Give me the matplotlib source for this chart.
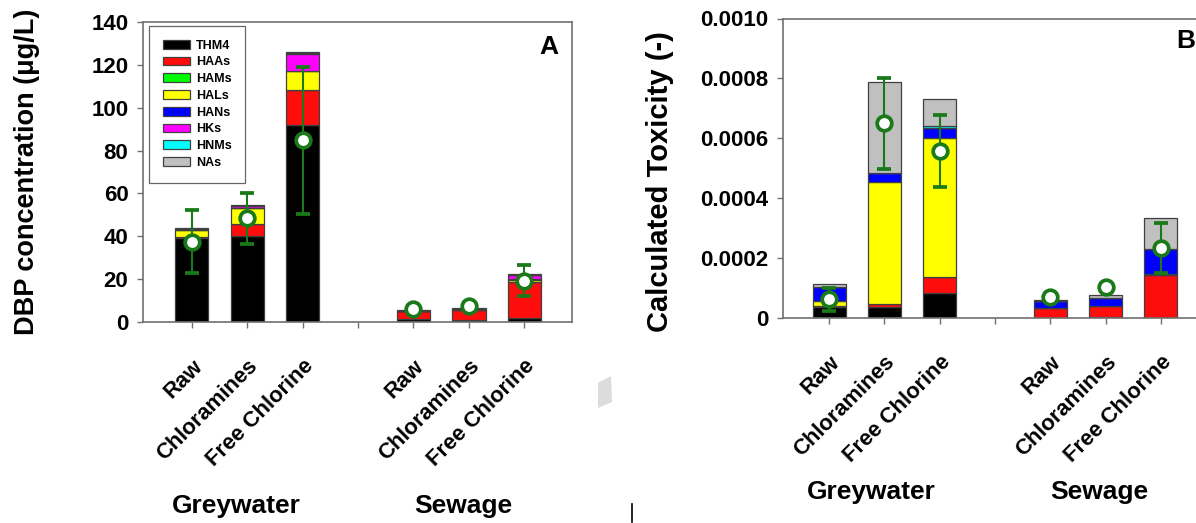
import matplotlib
matplotlib.use("Agg")
import matplotlib.pyplot as plt
import numpy as np
from matplotlib.patches import Patch, Polygon
from matplotlib.lines import Line2D
from matplotlib.transforms import ScaledTranslation
from matplotlib.ticker import FixedLocator, FuncFormatter

plt.rcParams['font.family'] = ['Liberation Sans', 'DejaVu Sans']

# ---------------- data ----------------
positions = [1, 2, 3, 5, 6, 7]
tick_positions = [1, 2, 3, 4, 5, 6, 7]
tick_labels = ["Raw", "Chloramines", "Free Chlorine", "", "Raw", "Chloramines", "Free Chlorine"]
groups = ["Greywater", "Sewage"]
classes = ["THM4", "HAAs", "HAMs", "HALs", "HANs", "HKs", "HNMs", "NAs"]
class_colors = ["#000000", "#ff0d0d", "#00ff00", "#ffff00", "#0000ff", "#ff00ff", "#00ffff", "#c0c0c0"]

# Panel A: DBP concentration (ug/L), stacked components per sample
conc_THM4 = [39.0, 40.0, 92.1, 1.2, 1.0, 2.0]
conc_HAAs = [0.8, 5.6, 16.2, 3.8, 4.6, 16.8]
conc_HAMs = [0.1, 0.1, 0.1, 0.0, 0.0, 0.1]
conc_HALs = [3.0, 7.5, 8.6, 0.1, 0.4, 0.9]
conc_HANs = [0.2, 0.2, 0.2, 0.1, 0.1, 0.2]
conc_HKs = [0.2, 0.8, 7.8, 0.0, 0.0, 2.0]
conc_HNMs = [0.0, 0.0, 0.4, 0.0, 0.0, 0.1]
conc_NAs = [0.4, 0.4, 0.4, 0.2, 0.3, 0.3]
conc_mean = [37.5, 48.4, 84.8, 5.9, 7.6, 19.3]
conc_err = [14.7, 11.9, 34.3, 0.6, 0.8, 7.1]

# Panel B: calculated toxicity (-), stacked components per sample
tox_THM4 = [0.000039, 0.000037, 0.000083, 0.000002, 0.000003, 0.000001]
tox_HAAs = [0.000002, 0.000010, 0.000055, 0.000034, 0.000038, 0.000145]
tox_HAMs = [0.0, 0.0, 0.0, 0.0, 0.0, 0.0]
tox_HALs = [0.000016, 0.000406, 0.000462, 0.0, 0.0, 0.000003]
tox_HANs = [0.000046, 0.000030, 0.000036, 0.000023, 0.000028, 0.000083]
tox_HKs = [0.0, 0.0, 0.0, 0.0, 0.0, 0.0]
tox_HNMs = [0.0, 0.0, 0.000006, 0.0, 0.0, 0.0]
tox_NAs = [0.000010, 0.000306, 0.000090, 0.000002, 0.000008, 0.000101]
tox_mean = [0.000063, 0.000650, 0.000558, 0.000071, 0.000103, 0.000234]
tox_err = [0.000037, 0.000153, 0.000119, 0.000005, 0.000010, 0.000083]

conc_stack = [conc_THM4, conc_HAAs, conc_HAMs, conc_HALs, conc_HANs, conc_HKs, conc_HNMs, conc_NAs]
tox_stack = [tox_THM4, tox_HAAs, tox_HAMs, tox_HALs, tox_HANs, tox_HKs, tox_HNMs, tox_NAs]

# ---------------- figure ----------------
W, H = 1196, 523
fig = plt.figure(figsize=(W / 100, H / 100), dpi=100)

spine_col = "#707070"
err_col = "#1a7a1a"
label_dx = {"Raw": 0.12, "Chloramines": 0.19, "Free Chlorine": 0.19, "": 0.0}


def px_axes(l, t, r, b):
    return fig.add_axes([l / W, 1 - b / H, (r - l) / W, (b - t) / H])


def draw_panel(ax, stack, mean, err, ylim, yticks, fmt):
    bottoms = np.zeros(len(positions))
    for vals, col in zip(stack, class_colors):
        ax.bar(positions, vals, width=0.6, bottom=bottoms, color=col,
               edgecolor="#404040", linewidth=0.9, zorder=2)
        bottoms = bottoms + np.array(vals)
    ax.errorbar(positions, mean, yerr=err, fmt="o", color=err_col, ecolor=err_col,
                elinewidth=1.5, capsize=5, capthick=1.5, markersize=10.5,
                markerfacecolor="white", markeredgecolor=err_col, markeredgewidth=2.7,
                zorder=4)
    ax.set_ylim(*ylim)
    ax.yaxis.set_major_locator(FixedLocator(yticks))
    ax.yaxis.set_major_formatter(FuncFormatter(fmt))
    ax.set_xticks(tick_positions)
    ax.set_xticklabels(tick_labels, rotation=45, rotation_mode="anchor",
                       ha="right", va="top", fontsize=15.8, fontweight="bold")
    for lab in ax.get_xticklabels():
        dx = label_dx.get(lab.get_text(), 0.16)
        lab.set_transform(lab.get_transform() + ScaledTranslation(dx, 0.0, fig.dpi_scale_trans))
    for s in ax.spines.values():
        s.set_color(spine_col)
        s.set_linewidth(1.2)
    ax.tick_params(axis="both", direction="out", color=spine_col, length=4, width=1.0)
    ax.tick_params(axis="y", labelsize=16, pad=6.5)
    ax.tick_params(axis="x", pad=20)
    for lab in ax.get_yticklabels():
        lab.set_fontweight("bold")


# Panel A
axA = px_axes(143, 22, 572, 322)
axA.set_xlim(0.12, 7.86)
draw_panel(axA, conc_stack, conc_mean, conc_err, (0, 140), [0, 20, 40, 60, 80, 100, 120, 140],
           lambda v, p: f"{v:.0f}")
axA.set_ylabel("DBP concentration (\u03bcg/L)", fontsize=19.5, fontweight="bold")
axA.yaxis.set_label_coords(-0.241, 0.5)
axA.text(0.946, 0.917, "A", transform=axA.transAxes, ha="center", va="center",
         fontsize=19, fontweight="bold")
handles = [Patch(facecolor=c, edgecolor="#404040", linewidth=0.9) for c in class_colors]
leg = axA.legend(handles, classes, loc="upper left", bbox_to_anchor=(0.0145, 0.987),
                 frameon=True, fancybox=False, handlelength=2.16,
                 handleheight=0.72, labelspacing=0.38, borderpad=1.1, handletextpad=0.48,
                 borderaxespad=0.0, prop={"weight": "bold", "size": 9})
leg.get_frame().set_edgecolor("#404040")
leg.get_frame().set_linewidth(0.9)
for g, x in zip(groups, [1.8, 5.9]):
    axA.text(x, -0.615, g, transform=axA.get_xaxis_transform(), ha="center", va="center",
             fontsize=19, fontweight="bold")

# Panel B
axB = px_axes(782.7, 18.5, 1209, 318.3)
axB.set_xlim(0.16, 7.87)
draw_panel(axB, tox_stack, tox_mean, tox_err, (0, 0.001),
           [0, 0.0002, 0.0004, 0.0006, 0.0008, 0.0010],
           lambda v, p: "0" if v == 0 else f"{v:.4f}")
axB.set_ylabel("Calculated Toxicity (-)", fontsize=21, fontweight="bold")
axB.yaxis.set_label_coords(-0.255, 0.455)
axB.text(0.946, 0.924, "B", transform=axB.transAxes, ha="center", va="center",
         fontsize=19, fontweight="bold")
for g, x in zip(groups, [1.77, 5.88]):
    axB.text(x, -0.579, g, transform=axB.get_xaxis_transform(), ha="center", va="center",
             fontsize=19, fontweight="bold")

# small artefacts present in the source image
fig.add_artist(Line2D([631.7 / W, 631.7 / W], [1 - 504 / H, 1 - 522 / H],
                      transform=fig.transFigure, color="black", linewidth=1.2))
fig.add_artist(Polygon([[598 / W, 1 - 383 / H], [611 / W, 1 - 376 / H],
                        [612 / W, 1 - 402 / H], [598 / W, 1 - 408 / H]],
                       closed=True, transform=fig.transFigure, facecolor="#dcdcdc",
                       edgecolor="none"))

fig.savefig("out.png", dpi=100)
